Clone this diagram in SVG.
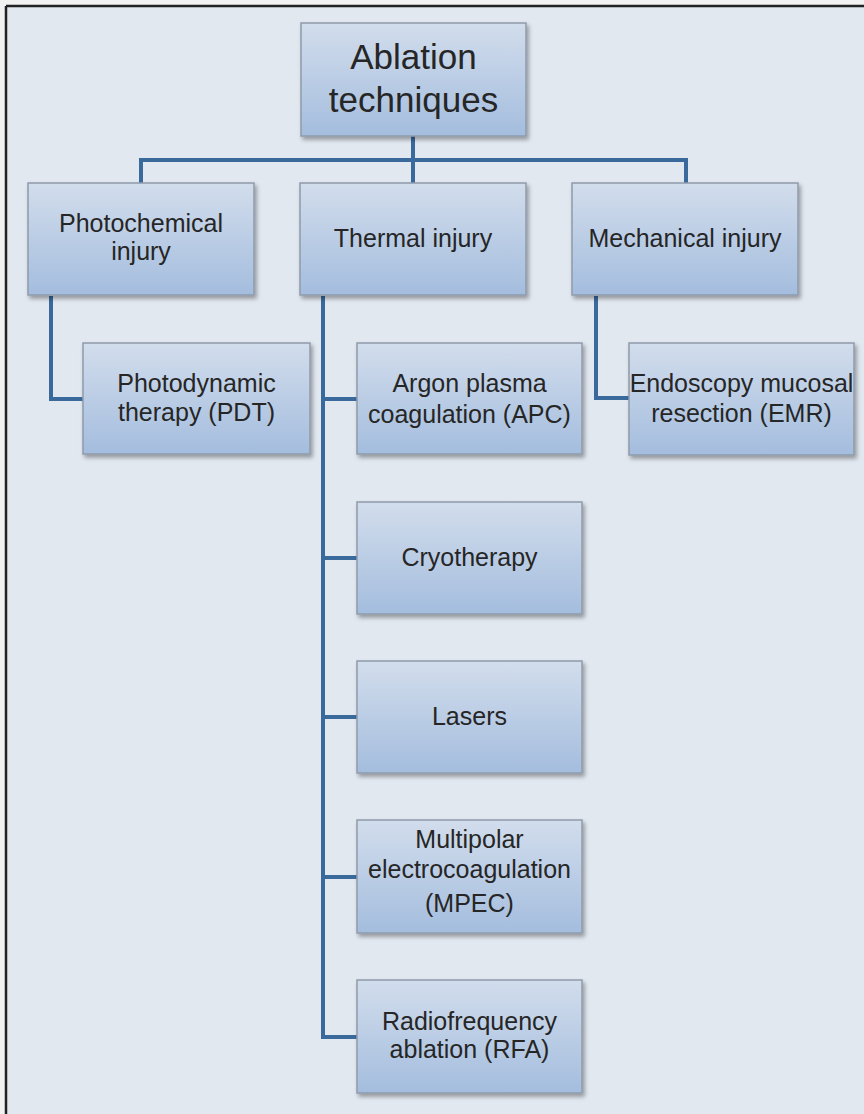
<svg xmlns="http://www.w3.org/2000/svg" width="864" height="1114" viewBox="0 0 864 1114">
  <defs>
    <linearGradient id="boxGrad" x1="0" y1="0" x2="0" y2="1">
      <stop offset="0" stop-color="#D2DDEC"/>
      <stop offset="1" stop-color="#A4BDDE"/>
    </linearGradient>
    <filter id="shadow" x="-10%" y="-10%" width="125%" height="130%">
      <feDropShadow dx="2" dy="3" stdDeviation="2" flood-color="#000" flood-opacity="0.35"/>
    </filter>
  </defs>
  <style>
    .box { fill: url(#boxGrad); stroke: #8E9BAB; stroke-width: 1.5; filter: url(#shadow); }
    .t { font-family: "Liberation Sans", Arial, sans-serif; font-size: 25px; fill: #262626; text-anchor: middle; }
    .root { font-size: 35px; }
    .conn { fill: none; stroke: #3A6A9C; stroke-width: 4; stroke-linejoin: miter; }
  </style>

  <rect x="0" y="0" width="864" height="1114" fill="#F2F2F2"/>
  <rect x="6" y="6" width="858" height="1108" fill="#E2E8F0"/>
  <line x1="6" y1="6" x2="864" y2="6" stroke="#222" stroke-width="2.5"/>
  <line x1="6" y1="6" x2="6" y2="1114" stroke="#222" stroke-width="2.5"/>

  <g id="connectors">
    <path class="conn" d="M413 136 V183"/>
    <path class="conn" d="M141 183 V160 H686 V183"/>
    <path class="conn" d="M51 296 V399 H83"/>
    <path class="conn" d="M596 296 V398 H629"/>
    <path class="conn" d="M323 296 V1037 H357"/>
    <path class="conn" d="M323 399 H357"/>
    <path class="conn" d="M323 558 H357"/>
    <path class="conn" d="M323 717 H357"/>
    <path class="conn" d="M323 877 H357"/>
  </g>

  <g id="ablation">
    <rect class="box" x="301" y="23" width="225" height="113"/>
    <text class="t root" x="413.5" y="69">Ablation</text>
    <text class="t root" x="413.5" y="112">techniques</text>
  </g>

  <g id="photochemical">
    <rect class="box" x="28" y="183" width="226" height="112"/>
    <text class="t" x="141" y="232">Photochemical</text>
    <text class="t" x="141" y="260">injury</text>
  </g>

  <g id="thermal">
    <rect class="box" x="300" y="183" width="226" height="112"/>
    <text class="t" x="413" y="247">Thermal injury</text>
  </g>

  <g id="mechanical">
    <rect class="box" x="572" y="183" width="226" height="112"/>
    <text class="t" x="685" y="247">Mechanical injury</text>
  </g>

  <g id="pdt">
    <rect class="box" x="83" y="343" width="227" height="111"/>
    <text class="t" x="196.5" y="392">Photodynamic</text>
    <text class="t" x="196.5" y="421">therapy (PDT)</text>
  </g>

  <g id="apc">
    <rect class="box" x="357" y="343" width="225" height="111"/>
    <text class="t" x="469.5" y="392">Argon plasma</text>
    <text class="t" x="469.5" y="423">coagulation (APC)</text>
  </g>

  <g id="emr">
    <rect class="box" x="629" y="343" width="225" height="112"/>
    <text class="t" x="741.5" y="392">Endoscopy mucosal</text>
    <text class="t" x="741.5" y="422">resection (EMR)</text>
  </g>

  <g id="cryotherapy">
    <rect class="box" x="357" y="502" width="225" height="112"/>
    <text class="t" x="469.5" y="566">Cryotherapy</text>
  </g>

  <g id="lasers">
    <rect class="box" x="357" y="661" width="225" height="112"/>
    <text class="t" x="469.5" y="725">Lasers</text>
  </g>

  <g id="mpec">
    <rect class="box" x="357" y="820" width="225" height="113"/>
    <text class="t" x="469.5" y="848">Multipolar</text>
    <text class="t" x="469.5" y="878">electrocoagulation</text>
    <text class="t" x="469.5" y="912">(MPEC)</text>
  </g>

  <g id="rfa">
    <rect class="box" x="357" y="980" width="225" height="113"/>
    <text class="t" x="469.5" y="1030">Radiofrequency</text>
    <text class="t" x="469.5" y="1058">ablation (RFA)</text>
  </g>
</svg>
